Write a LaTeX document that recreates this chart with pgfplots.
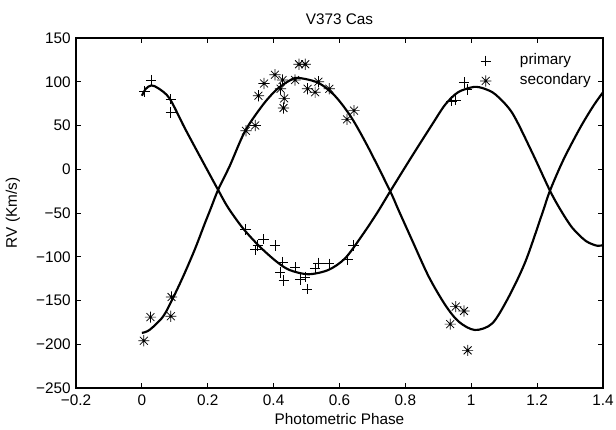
\documentclass[border=0pt]{standalone}
\usepackage{fontspec}
\setmainfont{Liberation Sans}
\usepackage{pgfplots}
\pgfplotsset{compat=1.18}
\usetikzlibrary{calc}

\pgfdeclareplotmark{ast8}{%
  \pgfpathmoveto{\pgfqpoint{-\pgfplotmarksize}{0pt}}\pgfpathlineto{\pgfqpoint{\pgfplotmarksize}{0pt}}%
  \pgfpathmoveto{\pgfqpoint{0pt}{-\pgfplotmarksize}}\pgfpathlineto{\pgfqpoint{0pt}{\pgfplotmarksize}}%
  \pgfpathmoveto{\pgfqpoint{-0.7071\pgfplotmarksize}{-0.7071\pgfplotmarksize}}\pgfpathlineto{\pgfqpoint{0.7071\pgfplotmarksize}{0.7071\pgfplotmarksize}}%
  \pgfpathmoveto{\pgfqpoint{-0.7071\pgfplotmarksize}{0.7071\pgfplotmarksize}}\pgfpathlineto{\pgfqpoint{0.7071\pgfplotmarksize}{-0.7071\pgfplotmarksize}}%
  \pgfusepathqstroke}

\pgfplotstableread{
phase rv
0.008 89
0.028 102
0.088 80
0.088 65
0.940 78
0.952 79
0.978 99
0.987 91
0.314 -69
0.345 -92
0.352 -87
0.369 -80
0.404 -87
0.428 -106
0.420 -118
0.431 -127
0.465 -112
0.480 -126
0.495 -123
0.502 -137
0.526 -113
0.536 -107
0.569 -108
0.624 -103
0.642 -87
}\primary

\pgfplotstableread{
phase rv
0.316 44
0.344 50
0.354 84
0.371 98
0.404 108
0.427 102
0.421 92
0.432 81
0.430 70
0.465 102
0.477 120
0.496 120
0.503 92
0.526 88
0.536 100
0.569 92
0.623 57
0.644 67
0.006 -196
0.026 -169
0.090 -146
0.088 -168
0.953 -157
0.978 -162
0.936 -177
0.989 -207
}\secondary

\pgfplotstableread{
phase rv
0.000 84
0.012 92
0.029 95.8
0.050 92.5
0.084 81
0.130 47.2
0.176 14.9
0.232 -24
0.262 -44
0.307 -67.5
0.358 -88.5
0.409 -105.6
0.448 -115.1
0.505 -120
0.566 -115.1
0.617 -101.8
0.668 -76
0.714 -50
0.754 -25.2
0.820 14.9
0.881 51
0.921 73.9
0.960 88
1.008 94.1
1.040 92
1.074 85.3
1.125 64
1.185 19
1.239 -24.5
1.272 -47
1.307 -67
1.348 -82
1.383 -87.5
1.400 -86.5
}\primaryfit

\pgfplotstableread{
phase rv
0.000 -187
0.023 -183.7
0.064 -168.5
0.094 -147.5
0.125 -122.8
0.160 -92.3
0.191 -62
0.210 -44
0.232 -23
0.267 4
0.313 43.4
0.368 73.9
0.409 91
0.448 101.3
0.475 104.4
0.536 98.7
0.587 83.5
0.637 58.6
0.688 24.4
0.754 -25.2
0.779 -46.5
0.820 -80.8
0.871 -122.8
0.921 -155.1
0.962 -174.2
1.011 -183.7
1.064 -176.1
1.114 -145.7
1.165 -105
1.216 -50
1.239 -24.5
1.280 11
1.330 47
1.370 72
1.400 88
}\secondaryfit

\begin{document}
\fontsize{11.5}{13.8}\selectfont
\begin{tikzpicture}
\begin{axis}[
  scale only axis,
  width=395.25pt, height=262.5pt,
  xmin=-0.2, xmax=1.4, ymin=-250, ymax=150,
  xtick={-0.2,0,0.2,0.4,0.6,0.8,1,1.2,1.4},
  xticklabels={−0.2,0,0.2,0.4,0.6,0.8,1,1.2,1.4},
  ytick={-250,-200,-150,-100,-50,0,50,100,150},
  yticklabels={−250,−200,−150,−100,−50,0,50,100,150},
  tick align=inside,
  xtick pos=both, ytick pos=both,
  major tick length=3.5pt,
  tick style={line width=0.6pt, black},
  axis line style={line width=0.9pt},
  ticklabel style={font=\fontsize{11.5}{13.8}\selectfont},
  xticklabel style={yshift=-1pt},
  title={V373 Cas},
  title style={font=\fontsize{11.5}{13.8}\selectfont},
  xlabel={Photometric Phase},
  ylabel={RV (Km/s)},
  xlabel style={at={(rel axis cs:0.5,0)}, anchor=center, yshift=-23pt},
  ylabel style={at={(rel axis cs:0,0.5)}, anchor=center, yshift=47.25pt},
  legend cell align=left,
  legend image code/.code={\draw[#1] plot coordinates {(0pt,0pt)}; \path (-4.5pt,0pt) (23.5pt,0pt);},
  legend style={draw=none, fill=none, inner sep=0pt, at={(rel axis cs:1,1)}, anchor=north east, xshift=-7pt, yshift=-9.5pt,
    nodes={inner sep=2pt, text height=8.5pt, text depth=2.5pt}, row sep=0pt,
    font=\fontsize{11.5}{13.8}\selectfont},
]
\addplot[only marks, mark=+, mark size=3.9pt, mark options={line width=0.55pt, black}] table[x=phase,y=rv] {\primary};
\addlegendentry{primary}
\addplot[only marks, mark=ast8, mark size=4.2pt, mark options={line width=0.55pt, black}] table[x=phase,y=rv] {\secondary};
\addlegendentry{secondary}
\addplot[smooth, line width=1.6pt, black, no marks, forget plot] table[x=phase,y=rv] {\primaryfit};
\addplot[smooth, line width=1.6pt, black, no marks, forget plot] table[x=phase,y=rv] {\secondaryfit};
\end{axis}
\pgfresetboundingbox
\path[use as bounding box] ($(current axis.south west)+(-57pt,-30.75pt)$) rectangle ($(current axis.north east)+(9.75pt,28.5pt)$);
\end{tikzpicture}
\end{document}
